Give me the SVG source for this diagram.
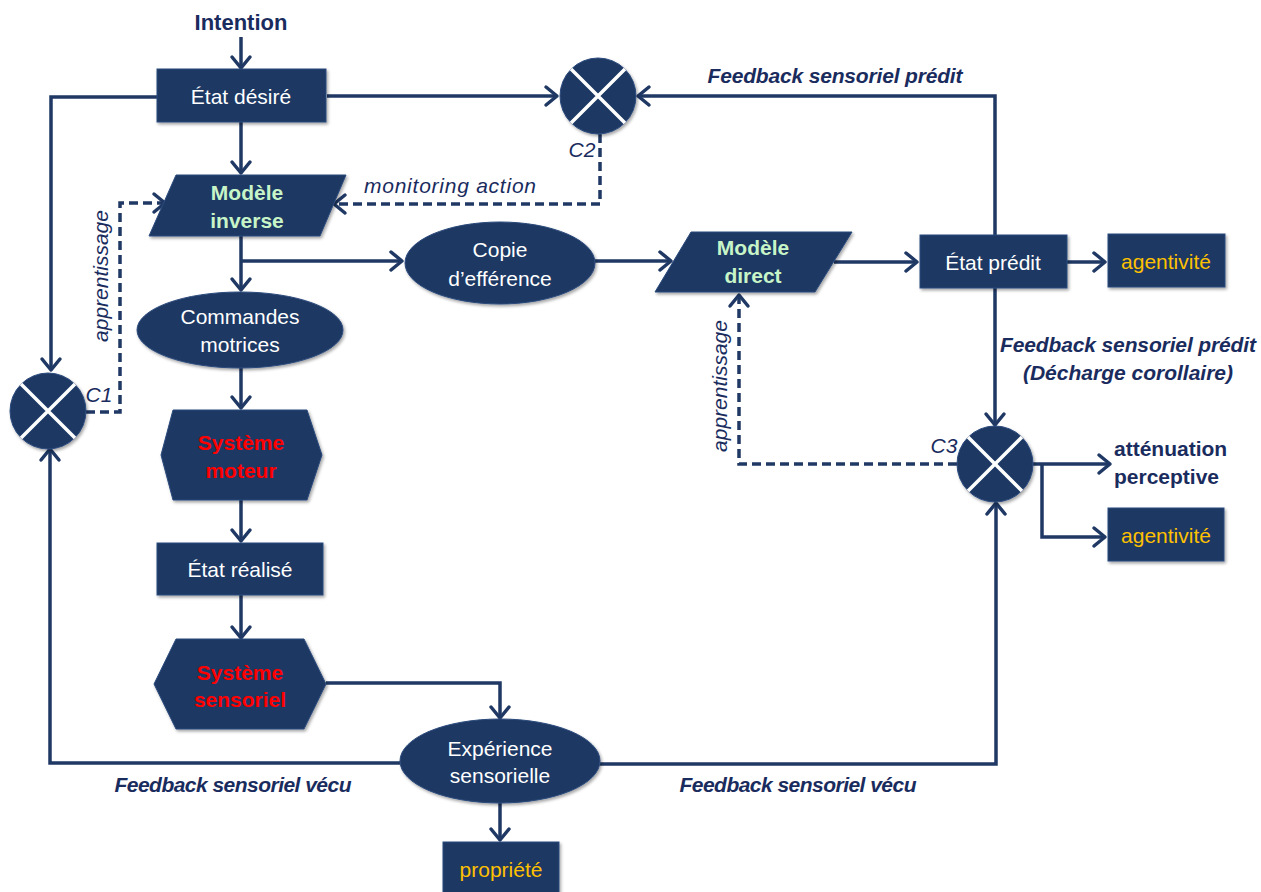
<svg xmlns="http://www.w3.org/2000/svg" width="1261" height="892" viewBox="0 0 1261 892">
<style>
.n{fill:#1f3864;stroke:#2a4a7c;stroke-width:1;filter:url(#sh)}
.c{fill:none;stroke:#1f3864;stroke-width:3.5;stroke-linejoin:miter}
.a{marker-end:url(#ar)}
.d{stroke-dasharray:9 5}
.x{stroke:#ffffff;stroke-width:3.5}
text{font-family:"Liberation Sans",Arial,sans-serif;font-size:21px;text-anchor:middle}
.w{fill:#ffffff}
.g{fill:#c8f5c8;font-weight:bold}
.r{fill:#ff0000;font-weight:bold}
.o{fill:#ffc000}
.lb{fill:#1a2c5e;font-weight:bold;font-style:italic}
.li{fill:#1a2c5e;font-style:italic}
.b{fill:#1a2c5e;font-weight:bold}
.s{text-anchor:start}
</style>
<defs>
<filter id="sh" x="-10%" y="-10%" width="125%" height="130%">
<feDropShadow dx="1.5" dy="2" stdDeviation="1.5" flood-color="#000" flood-opacity="0.35"/>
</filter>
<marker id="ar" markerUnits="userSpaceOnUse" markerWidth="18" markerHeight="24" viewBox="-14 -12 18 24" refX="0" refY="0" orient="auto">
<path d="M-11,-9 L0,0 L-11,9" fill="none" stroke="#1f3864" stroke-width="3.5" stroke-linecap="round" stroke-linejoin="round"/>
</marker>
</defs>
<rect width="1261" height="892" fill="#ffffff"/>

<g id="connectors">
<path class="c a" d="M241,37 V68"/>
<path class="c a" d="M241,122 V173"/>
<path class="c a" d="M157,97 H51 V370"/>
<path class="c a" d="M327,96 H557"/>
<path class="c a" d="M995,235 V96 H638"/>
<path class="c a d" d="M600,134 V204 H334"/>
<path class="c a d" d="M86,412 H120 V203 H165"/>
<path class="c a" d="M241,236 V290"/>
<path class="c a" d="M241,261 H402"/>
<path class="c a" d="M595,261 H671"/>
<path class="c a" d="M834,262 H917"/>
<path class="c a" d="M1067,262 H1105"/>
<path class="c a" d="M995,288 V425"/>
<path class="c a d" d="M957,464 H739 V295"/>
<path class="c a" d="M1033,464 H1110"/>
<path class="c a" d="M1042,464 V537 H1105"/>
<path class="c a" d="M241,368 V408"/>
<path class="c a" d="M241,500 V541"/>
<path class="c a" d="M241,595 V638"/>
<path class="c a" d="M326,683 H500 V718"/>
<path class="c a" d="M400,763 H50 V449"/>
<path class="c a" d="M600,764 H996 V503"/>
<path class="c a" d="M500,803 V840"/>
</g>

<g id="intention"><text class="b" x="241" y="30" style="font-size:22px">Intention</text></g>

<g id="etat-desire">
<rect class="n" x="157" y="69" width="169" height="53"/>
<text class="w" x="241" y="104">État désiré</text>
</g>

<g id="c2">
<circle class="n" cx="598" cy="96" r="38"/>
<path class="x" d="M571,69 L625,123 M625,69 L571,123"/>
<text class="li" x="582" y="157">C2</text>
</g>

<g id="modele-inverse">
<polygon class="n" points="176,175 346,175 320,236 149,236"/>
<text class="g" x="247" y="200">Modèle</text>
<text class="g" x="247" y="228">inverse</text>
</g>

<g id="copie">
<ellipse class="n" cx="500" cy="263" rx="95" ry="41"/>
<text class="w" x="500" y="257">Copie</text>
<text class="w" x="500" y="286">d’efférence</text>
</g>

<g id="modele-direct">
<polygon class="n" points="691,232 852,232 815,292 655,292"/>
<text class="g" x="753" y="255">Modèle</text>
<text class="g" x="753" y="283">direct</text>
</g>

<g id="etat-predit">
<rect class="n" x="920" y="235" width="147" height="53"/>
<text class="w" x="993" y="270">État prédit</text>
</g>

<g id="agentivite1">
<rect class="n" x="1108" y="234" width="117" height="53"/>
<text class="o" x="1166" y="269">agentivité</text>
</g>

<g id="commandes">
<ellipse class="n" cx="240" cy="330" rx="103" ry="38"/>
<text class="w" x="240" y="324">Commandes</text>
<text class="w" x="240" y="352">motrices</text>
</g>

<g id="c1">
<circle class="n" cx="48" cy="411" r="38"/>
<path class="x" d="M21,384 L75,438 M75,384 L21,438"/>
<text class="li" x="99" y="402">C1</text>
</g>

<g id="systeme-moteur">
<polygon class="n" points="173,410 307,410 322,455 307,500 173,500 161,455"/>
<text class="r" x="241" y="450">Système</text>
<text class="r" x="241" y="478">moteur</text>
</g>

<g id="etat-realise">
<rect class="n" x="157" y="543" width="166" height="52"/>
<text class="w" x="240" y="577">État réalisé</text>
</g>

<g id="systeme-sensoriel">
<polygon class="n" points="176,639 304,639 326,684 304,729 176,729 154,684"/>
<text class="r" x="240" y="680">Système</text>
<text class="r" x="240" y="707">sensoriel</text>
</g>

<g id="experience">
<ellipse class="n" cx="500" cy="761" rx="100" ry="42"/>
<text class="w" x="500" y="756">Expérience</text>
<text class="w" x="500" y="783">sensorielle</text>
</g>

<g id="propriete">
<rect class="n" x="443" y="842" width="116" height="60"/>
<text class="o" x="501" y="877">propriété</text>
</g>

<g id="c3">
<circle class="n" cx="995" cy="464" r="38"/>
<path class="x" d="M968,437 L1022,491 M1022,437 L968,491"/>
<text class="li" x="944" y="453">C3</text>
</g>

<g id="attenuation">
<text class="b s" x="1114" y="456">atténuation</text>
<text class="b s" x="1114" y="484">perceptive</text>
</g>

<g id="agentivite2">
<rect class="n" x="1108" y="508" width="116" height="53"/>
<text class="o" x="1166" y="543">agentivité</text>
</g>

<g id="labels">
<text class="lb" x="835" y="83" textLength="255">Feedback sensoriel prédit</text>
<text class="li" x="450" y="193" textLength="172">monitoring action</text>
<text class="li" transform="translate(108,276) rotate(-90)">apprentissage</text>
<text class="li" transform="translate(727,386) rotate(-90)">apprentissage</text>
<text class="lb" x="1128" y="352" textLength="256">Feedback sensoriel prédit</text>
<text class="lb" x="1128" y="380">(Décharge corollaire)</text>
<text class="lb" x="233" y="792" textLength="237">Feedback sensoriel vécu</text>
<text class="lb" x="798" y="792" textLength="237">Feedback sensoriel vécu</text>
</g>
</svg>
